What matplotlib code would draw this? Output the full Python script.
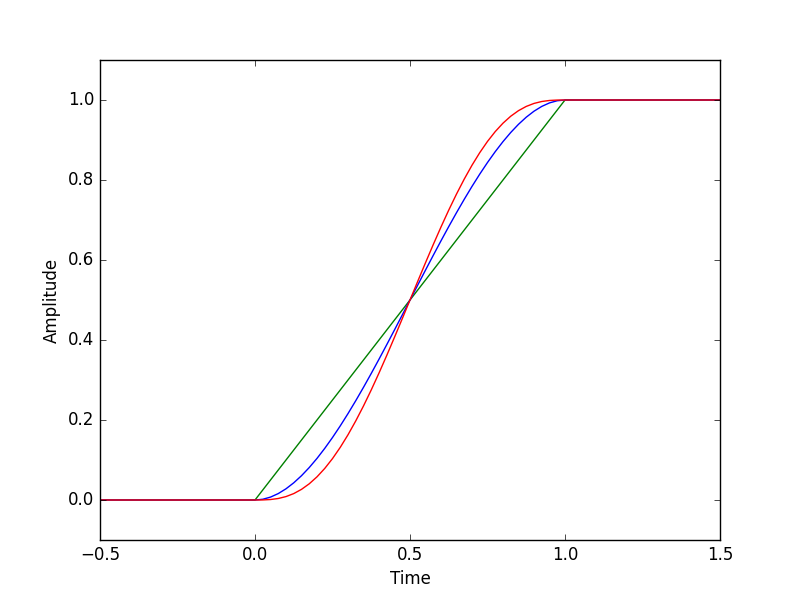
import matplotlib
matplotlib.use("Agg")
import matplotlib.pyplot as plt

plt.style.use("classic")

time = [-0.5, 0.0, 0.025, 0.05, 0.075, 0.1, 0.125, 0.15, 0.175, 0.2, 0.225,
        0.25, 0.275, 0.3, 0.325, 0.35, 0.375, 0.4, 0.425, 0.45, 0.475, 0.5,
        0.525, 0.55, 0.575, 0.6, 0.625, 0.65, 0.675, 0.7, 0.725, 0.75, 0.775,
        0.8, 0.825, 0.85, 0.875, 0.9, 0.925, 0.95, 0.975, 1.0, 1.5]

linear = [0.0, 0.0, 0.025, 0.05, 0.075, 0.1, 0.125, 0.15, 0.175, 0.2, 0.225,
          0.25, 0.275, 0.3, 0.325, 0.35, 0.375, 0.4, 0.425, 0.45, 0.475, 0.5,
          0.525, 0.55, 0.575, 0.6, 0.625, 0.65, 0.675, 0.7, 0.725, 0.75, 0.775,
          0.8, 0.825, 0.85, 0.875, 0.9, 0.925, 0.95, 0.975, 1.0, 1.0]

smooth = [0.0, 0.0, 0.00184, 0.00725, 0.01603, 0.028, 0.04297, 0.06075,
          0.08116, 0.104, 0.12909, 0.15625, 0.18528, 0.216, 0.24822, 0.28175,
          0.31641, 0.352, 0.38834, 0.42525, 0.46253, 0.5, 0.53747, 0.57475,
          0.61166, 0.648, 0.68359, 0.71825, 0.75178, 0.784, 0.81472, 0.84375,
          0.87091, 0.896, 0.91884, 0.93925, 0.95703, 0.972, 0.98397, 0.99275,
          0.99816, 1.0, 1.0]

smoother = [0.0, 0.0, 0.00015, 0.00116, 0.00376, 0.00856, 0.01605, 0.02661,
            0.04051, 0.05792, 0.07892, 0.10352, 0.13162, 0.16308, 0.19769,
            0.23517, 0.27521, 0.31744, 0.36147, 0.40687, 0.4532, 0.5, 0.5468,
            0.59313, 0.63853, 0.68256, 0.72479, 0.76483, 0.80231, 0.83692,
            0.86838, 0.89648, 0.92108, 0.94208, 0.95949, 0.97339, 0.98395,
            0.99144, 0.99624, 0.99884, 0.99985, 1.0, 1.0]

fig = plt.figure(figsize=(8, 6), dpi=100)
ax = fig.add_subplot(111)
ax.plot(time, linear, color="g", lw=1.0)
ax.plot(time, smooth, color="b", lw=1.0)
ax.plot(time, smoother, color="r", lw=1.0)
ax.set_xlim(-0.5, 1.5)
ax.set_ylim(-0.1, 1.1)
ax.set_xticks([-0.5, 0.0, 0.5, 1.0, 1.5])
ax.set_yticks([0.0, 0.2, 0.4, 0.6, 0.8, 1.0])
ax.set_xlabel("Time")
ax.set_ylabel("Amplitude")
fig.savefig("out.png", dpi=100)
